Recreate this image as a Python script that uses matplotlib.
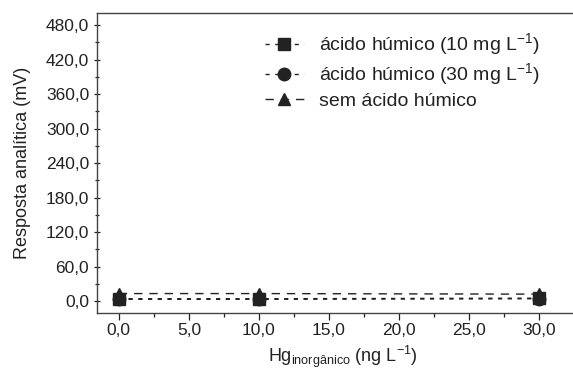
import matplotlib
matplotlib.use("Agg")
import matplotlib.pyplot as plt
from matplotlib.ticker import MultipleLocator, FuncFormatter

plt.rcParams['font.family'] = ['Liberation Sans', 'DejaVu Sans']
plt.rcParams['mathtext.fontset'] = 'custom'
plt.rcParams['mathtext.rm'] = 'Liberation Sans'

x = [0.0, 10.0, 30.0]
y_10mg = [4.0, 4.0, 5.0]
y_30mg = [3.0, 3.0, 4.0]
y_sem = [13.0, 13.0, 12.0]
labels = ["ácido húmico (10 mg L$^{\\mathregular{-1}}$)",
          "ácido húmico (30 mg L$^{\\mathregular{-1}}$)",
          "sem ácido húmico"]

fig = plt.figure(figsize=(5.73, 3.8), dpi=100)
ax = fig.add_axes([0.169, 0.176, 0.86, 0.79])

c = '#222222'
ax.plot(x, y_10mg, ls=(0, (3, 4)), color=c, lw=1.0, marker='s', ms=8, label=labels[0])
ax.plot(x, y_30mg, ls=(0, (3, 4)), color=c, lw=1.0, marker='o', ms=9, label=labels[1])
ax.plot(x, y_sem, ls=(0, (6, 5)), color=c, lw=1.0, marker='^', ms=9, label=labels[2])

ax.set_xlim(-1.57, 33.6)
ax.set_ylim(-21, 501)
ax.xaxis.set_major_locator(MultipleLocator(5))
ax.xaxis.set_minor_locator(MultipleLocator(2.5))
ax.yaxis.set_major_locator(MultipleLocator(60))
ax.yaxis.set_minor_locator(MultipleLocator(30))
fmt = FuncFormatter(lambda v, p: f"{v:.1f}".replace('.', ','))
ax.xaxis.set_major_formatter(fmt)
ax.yaxis.set_major_formatter(fmt)
ax.tick_params(axis='both', which='major', labelsize=12.5, colors=c, length=5, width=0.9)
ax.tick_params(axis='both', which='minor', length=3, width=0.9, colors=c)
ax.tick_params(axis='y', which='both', direction='inout', pad=3)
ax.tick_params(axis='x', which='both', direction='out', pad=2)
for s in ax.spines.values():
    s.set_color('#444444')
    s.set_linewidth(1.0)

ax.set_xlabel("Hg$_{\\mathregular{inorgânico}}$ (ng L$^{\\mathregular{-1}}$)", fontsize=13, color=c, labelpad=4)
ax.set_ylabel("Resposta analítica (mV)", fontsize=13, color=c, labelpad=11)

leg = ax.legend(loc='upper left', bbox_to_anchor=(0.313, 0.985), frameon=False,
                fontsize=14, handlelength=2.0, labelspacing=0.2, handletextpad=0.8,
                borderaxespad=0.3)
for t in leg.get_texts():
    t.set_color(c)

fig.savefig("out.png", dpi=100)
